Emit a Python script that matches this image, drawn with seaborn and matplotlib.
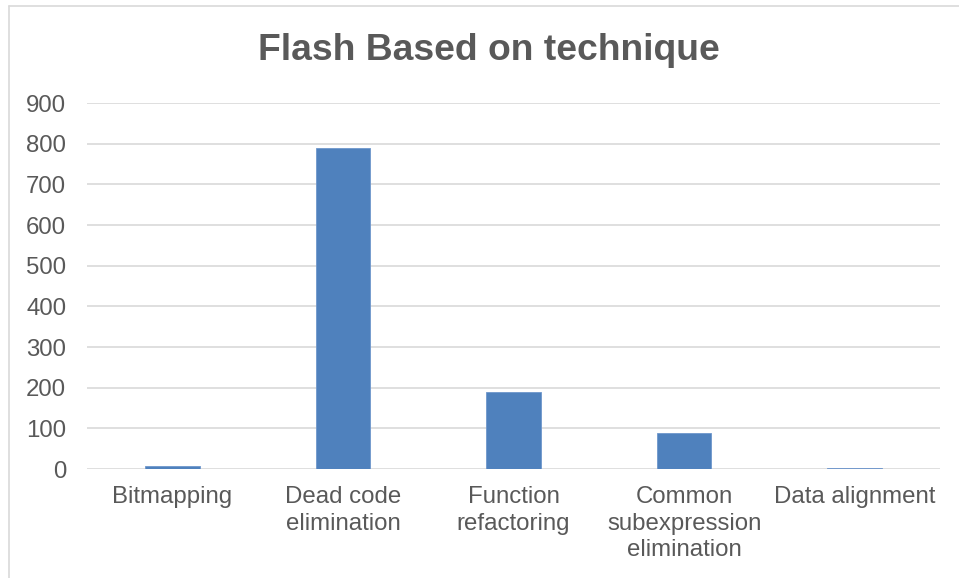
import matplotlib
matplotlib.use("Agg")
import matplotlib.pyplot as plt
import seaborn as sns
import pandas as pd
from matplotlib.lines import Line2D

categories = [
    "Bitmapping",
    "Dead code\nelimination",
    "Function\nrefactoring",
    "Common\nsubexpression\nelimination",
    "Data alignment",
]
flash_values = [7, 790, 189, 89, 2]
y_ticks = [0, 100, 200, 300, 400, 500, 600, 700, 800, 900]

sns.set_theme(style="white")
plt.rcParams["font.family"] = ["Liberation Sans", "DejaVu Sans"]

text_color = "#595959"
grid_color = "#d9d9d9"
bar_color = "#4f81bd"

df = pd.DataFrame({"technique": categories, "flash": flash_values})

fig = plt.figure(figsize=(9.59, 5.78), dpi=100)
W, H = 959, 578
ax = fig.add_axes([87 / W, 1 - 469 / H, (940 - 87) / W, (469 - 103) / H])

sns.barplot(data=df, x="technique", y="flash", color=bar_color, width=0.32,
            saturation=1, edgecolor="#6f97cc", linewidth=0.6, ax=ax, zorder=3)

ax.set_ylim(0, 900)
ax.set_yticks(y_ticks)
ax.set_xlim(-0.5, len(categories) - 0.5)
ax.yaxis.grid(True, color=grid_color, linewidth=1.2, zorder=0)
ax.set_axisbelow(True)
for s in ax.spines.values():
    s.set_visible(False)
ax.set_xlabel("")
ax.set_ylabel("")
ax.tick_params(axis="both", length=0, labelsize=17.3, colors=text_color)
ax.tick_params(axis="y", pad=15)
ax.tick_params(axis="x", pad=12.5)
for lbl in ax.get_xticklabels():
    lbl.set_linespacing(1.26)
for lbl in ax.get_yticklabels():
    lbl.set_horizontalalignment("right")

fig.text(489 / W, 1 - 50 / H, "Flash Based on technique", ha="center", va="center",
         fontsize=26.8, fontweight="bold", color=text_color)

# chart frame (left and top edges)
fig.add_artist(Line2D([8.5 / W, 8.5 / W], [0, 1 - 6 / H], transform=fig.transFigure,
                      color=grid_color, linewidth=1.2))
fig.add_artist(Line2D([8.5 / W, 1], [1 - 6 / H, 1 - 6 / H], transform=fig.transFigure,
                      color=grid_color, linewidth=1.2))

fig.savefig("out.png", dpi=100, facecolor="white")
